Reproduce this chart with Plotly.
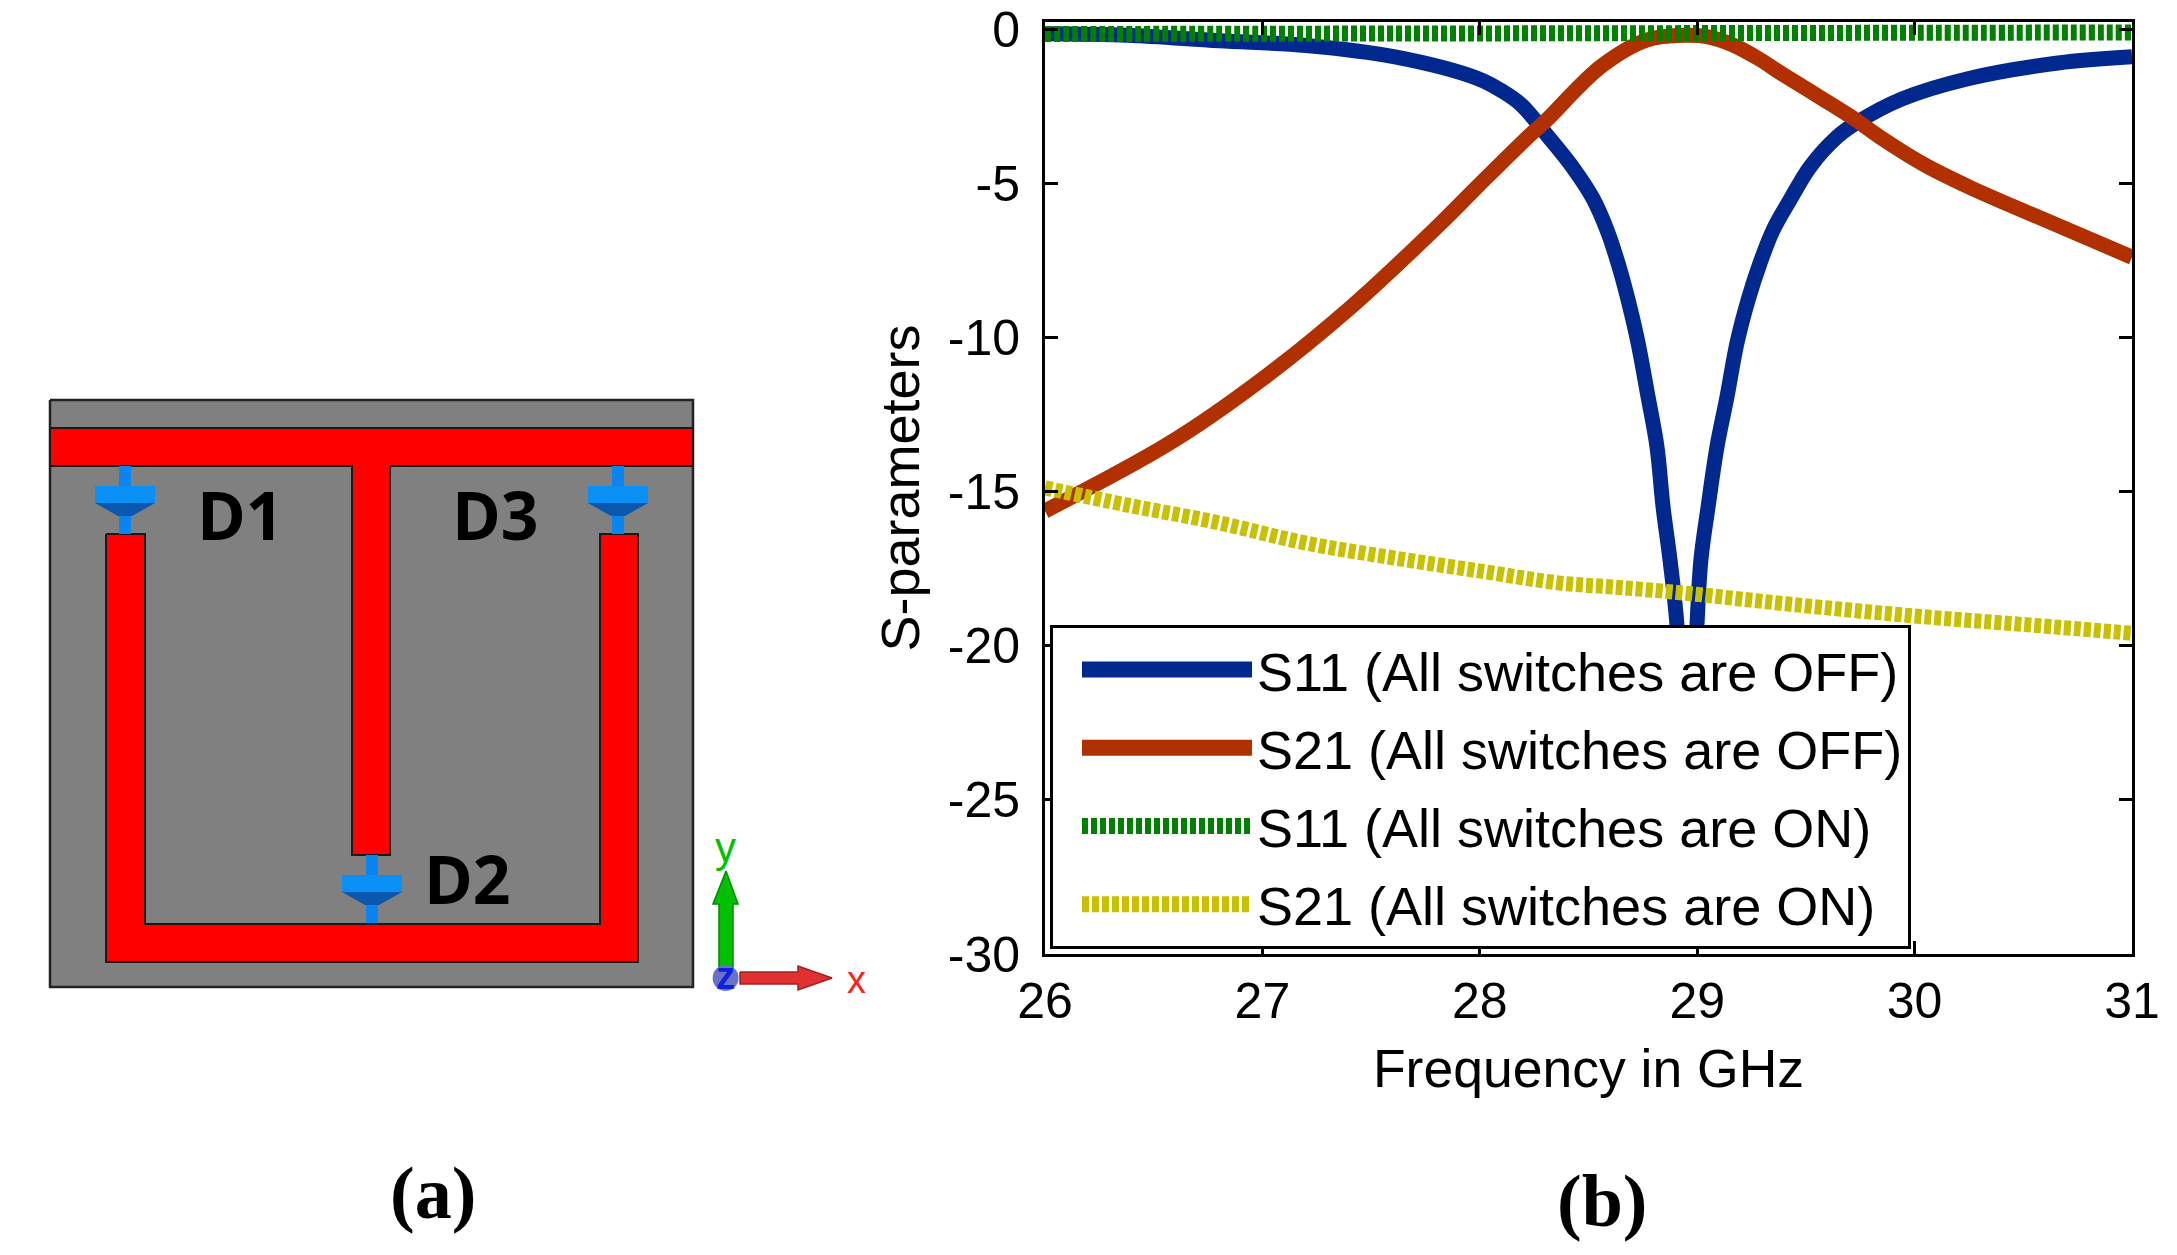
import plotly.graph_objects as go

# ---- Chart (b) data ----
s11_off_f = [26.0, 26.38, 26.8, 27.2, 27.61, 27.99, 28.1, 28.19, 28.315, 28.429, 28.521, 28.59, 28.645, 28.69, 28.728, 28.774,
             28.815, 28.843, 28.875, 28.907, 28.93, 28.953, 28.975, 28.999, 29.017, 29.05, 29.091, 29.137, 29.183,
             29.234, 29.289, 29.349, 29.427, 29.519, 29.643, 29.73, 29.94, 30.25, 30.66, 31.0]
s11_off = [-0.15, -0.2, -0.38, -0.53, -0.9, -1.6, -2.0, -2.45, -3.49, -4.5, -5.5, -6.61, -7.81, -9.01, -10.18, -11.93,
           -13.55, -15.5, -17.22, -19.33, -23.0, -27.0, -23.0, -19.33, -17.22, -15.5, -13.55, -11.93, -10.18,
           -8.79, -7.59, -6.52, -5.54, -4.47, -3.5, -3.05, -2.27, -1.6, -1.1, -0.9]
s21_off_f = [26.0, 26.58, 27.0, 27.41, 27.82, 27.99, 28.23, 28.3, 28.56, 28.77, 28.95, 29.05, 29.16, 29.28, 29.39, 29.55, 29.73, 29.84, 30.04, 30.25, 30.45, 31.0]
s21_off = [-15.63, -13.4, -11.35, -9.0, -6.3, -5.1, -3.44, -3.0, -1.2, -0.35, -0.2, -0.25, -0.5, -0.95, -1.45, -2.15, -2.95, -3.5, -4.38, -5.12, -5.74, -7.4]
s11_on_f = [26.0, 27.0, 28.0, 29.0, 30.0, 31.0]
s11_on = [-0.16, -0.15, -0.14, -0.13, -0.12, -0.11]
s21_on_f = [26.0, 26.38, 26.79, 27.2, 27.61, 28.02, 28.37, 28.62, 28.95, 29.42, 30.04, 30.66, 31.0]
s21_on = [-14.88, -15.44, -16.0, -16.67, -17.16, -17.6, -17.97, -18.1, -18.3, -18.65, -19.06, -19.4, -19.6]

series_names = ["S11 (All switches are OFF)", "S21 (All switches are OFF)",
                "S11 (All switches are ON)", "S21 (All switches are ON)"]
x_ticks = [26, 27, 28, 29, 30, 31]
y_ticks = [0, -5, -10, -15, -20, -25, -30]

# ---- Schematic (a) outlines, in the picture's own units ----
board = [(50, 400), (693, 400), (693, 987), (50, 987)]
t_feed = [(50, 428), (693, 428), (693, 466), (390, 466), (390, 855), (352, 855), (352, 466), (50, 466)]
u_line = [(106, 534), (145, 534), (145, 924), (600, 924), (600, 534), (638, 534), (638, 962), (106, 962)]
diodes = [(125, 466), (618, 466), (372, 855)]
y_arrow = [(719, 976), (733, 976), (733, 904), (738, 904), (726, 871), (713, 904), (719, 904)]
x_arrow = [(740, 972), (798, 972), (798, 966), (832, 978), (798, 990), (798, 984), (740, 984)]

fig = go.Figure()

W, H = 2177, 1255


def poly(points, fill, line="rgba(0,0,0,0)", width=0):
    xs = [p[0] for p in points] + [points[0][0]]
    ys = [p[1] for p in points] + [points[0][1]]
    fig.add_trace(go.Scatter(x=xs, y=ys, xaxis="x2", yaxis="y2", mode="lines", fill="toself", fillcolor=fill,
                             line=dict(color=line, width=width), hoverinfo="skip", showlegend=False))


poly(board, "#808080", "#222222", 2.5)
poly(t_feed, "#FF0000", "#1a1a1a", 2)
poly(u_line, "#FF0000", "#1a1a1a", 2)
for cx, top in diodes:
    poly([(cx - 6, top), (cx + 6, top), (cx + 6, top + 68), (cx - 6, top + 68)], "#0A84F0")
    poly([(cx - 30, top + 37), (cx + 30, top + 37), (cx + 7, top + 50), (cx - 7, top + 50)], "#0B57AE")
    poly([(cx - 30, top + 20), (cx + 30, top + 20), (cx + 30, top + 37), (cx - 30, top + 37)], "#0A90F5")
poly(y_arrow, "#00C000", "#008A00", 1.5)
poly(x_arrow, "#E03030", "#A02020", 1.5)
fig.add_trace(go.Scatter(x=[725.6], y=[978], xaxis="x2", yaxis="y2", mode="markers",
                         marker=dict(size=26, color="#6A72C8"), hoverinfo="skip", showlegend=False))

# ---- Chart (b) curves ----
curve_styles = [("#00288F", None, 15), ("#B03000", None, 15), ("#007F00", "6px,3px", 16), ("#C8C000", "7px,3px", 15)]
curve_data = [(s11_off_f, s11_off), (s21_off_f, s21_off), (s11_on_f, s11_on), (s21_on_f, s21_on)]
for name, (fx, fy), (color, dash, width) in zip(series_names, curve_data, curve_styles):
    fig.add_trace(go.Scatter(x=fx, y=fy, mode="lines", name=name, legendgroup=name,
                             line=dict(color=color, width=width, dash=dash, shape="spline", smoothing=1.0)))

font = "Liberation Sans, Arial, sans-serif"
axis_common = dict(showgrid=False, zeroline=False, showline=True, linecolor="black", linewidth=3,
                   mirror="ticks", ticks="inside", ticklen=13, tickwidth=3, tickcolor="black",
                   tickfont=dict(family=font, size=50, color="black"), automargin=False)

fig.update_layout(
    width=W, height=H, autosize=False,
    margin=dict(l=0, r=0, t=0, b=0, pad=0),
    paper_bgcolor="white", plot_bgcolor="white",
    xaxis=dict(domain=[1045 / W, 2132 / W], range=[26, 31], tickmode="array", tickvals=x_ticks,
               ticktext=[str(v) for v in x_ticks], anchor="y", ticklabelstandoff=1,
               title=dict(text="Frequency in GHz", font=dict(family=font, size=53.5, color="black"), standoff=22),
               **axis_common),
    yaxis=dict(domain=[(H - 954) / H, (H - 22) / H], range=[-30, 0.23], tickmode="array", tickvals=y_ticks,
               ticktext=[str(v) for v in y_ticks], anchor="x", ticklabelstandoff=12,
               title=dict(text="S-parameters", font=dict(family=font, size=54, color="black"), standoff=11),
               **axis_common),
    xaxis2=dict(domain=[0, 950 / W], range=[0, 950], visible=False, anchor="y2"),
    yaxis2=dict(domain=[0, 1], range=[H, 0], visible=False, anchor="x2"),
    legend=dict(x=1050 / W, y=(H - 949) / H, xanchor="left", yanchor="bottom",
                bgcolor="white", bordercolor="black", borderwidth=3,
                font=dict(family=font, size=54, color="black"),
                itemwidth=170, indentation=24, traceorder="grouped", tracegroupgap=5,
                entrywidth=656, entrywidthmode="pixels"),
    showlegend=True,
)


def label(text, x, y, family, size, color="black", bold=False):
    fig.add_annotation(text=f"<b>{text}</b>" if bold else text, x=x, y=y, xref="x2", yref="y2",
                       xanchor="center", yanchor="middle",
                       showarrow=False, font=dict(family=family, size=size, color=color))


label("D1", 240, 514, "Open Sans", 66, bold=True)
label("D3", 495, 514, "Open Sans", 66, bold=True)
label("D2", 467, 878, "Open Sans", 66, bold=True)
label("y", 725, 847, font, 42, "#00C000")
label("x", 856, 980, font, 38, "#FF2020")
label("z", 725, 976, font, 38, "#1020E0", bold=True)
label("(a)", 433, 1193, "Liberation Serif", 74, bold=True)
fig.add_annotation(text="<b>(b)</b>", x=1602 / W, y=(H - 1201) / H, xref="paper", yref="paper", showarrow=False,
                   xanchor="center", yanchor="middle",
                   font=dict(family="Liberation Serif", size=74, color="black"))

fig.write_html(
    "out.html",
    config={"displayModeBar": False},
    post_script=(
        "document.body.style.margin='0';document.body.style.overflow='hidden';"
        "var s=document.createElement('style');"
        "s.textContent='.legendlines path{stroke-width:16px !important}';"
        "document.head.appendChild(s);"
    ),
)
